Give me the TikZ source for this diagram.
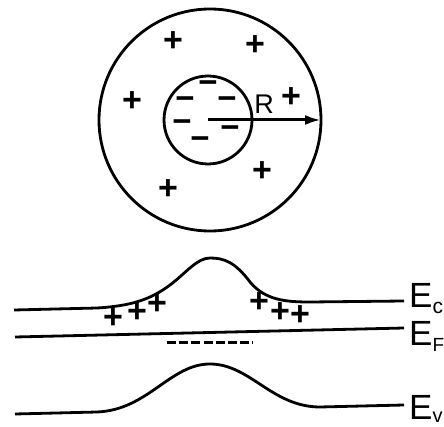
\documentclass[tikz,border=0pt]{standalone}
\usepackage{fontspec}
\setmainfont{Liberation Sans}
\usetikzlibrary{positioning,calc}
\usetikzlibrary{arrows.meta}
\tikzset{band/.style={line width=2.8pt}, chg/.style={inner sep=0pt,font=\fontsize{34}{34}\selectfont\bfseries}, mns/.style={chg,font=\fontsize{33}{33}\selectfont\bfseries}, lab/.style={inner sep=0pt,font=\fontsize{35}{35}\selectfont}}
\newcommand{\lvl}[3]{E\raisebox{#3}{\fontsize{#2}{#2}\selectfont #1}}

\begin{document}
\begin{tikzpicture}[x=1pt,y=-1pt]
\useasboundingbox (0,0) rectangle (444,427);
% grain with depletion shell
\node[circle,draw,line width=2.8pt,minimum size=222pt,outer sep=0pt] (grain) at (210,120) {};
\node[circle,draw,line width=2.8pt,minimum size=88pt] (core) at (208,120) {};
\draw[line width=3pt,-{Latex[length=16pt,width=10pt]}] (core.center) -- (grain.east);
\node[font=\fontsize{27}{27}\selectfont,inner sep=0pt] (rlab) at (264,104) {R};
\node[chg] (p1) at (173,42) {+};
\node[chg] (p2) at (255,46) {+};
\node[chg] (p3) at (132,102) {+};
\node[chg] (p4) at (291,98) {+};
\node[chg] (p5) at (262,172) {+};
\node[chg] (p6) at (168,190) {+};
\node[mns] (m1) at (208,87) {−};
\node[mns] (m2) at (185,103) {−};
\node[mns] (m3) at (227,103) {−};
\node[mns] (m4) at (182,126) {−};
\node[mns] (m5) at (230,132) {−};
\node[mns] (m6) at (200,143) {−};
% band diagram
\coordinate (ecl) at (14,310);
\coordinate (ecr) at (404,301);
\coordinate (efl) at (15,337);
\coordinate (efr) at (404,328);
\coordinate (evl) at (15,414);
\coordinate (evr) at (404,405);
\node[lab,anchor=base west] (eclab) at (409,308) {\lvl{c}{21}{-6pt}};
\node[lab,anchor=base west] (eflab) at (409,345) {\lvl{F}{19}{-6pt}};
\node[lab,anchor=base west] (evlab) at (409,419) {\lvl{v}{20}{-3pt}};
\draw[band] (ecl) -- (97,308) .. controls (130,306) and (150,300) .. (170,285) .. controls (186,273) and (197,258) .. (210,258) .. controls (224,258) and (235,262) .. (250,282) .. controls (265,300) and (285,302) .. (310,302) -- (ecr);
\draw[band] (efl) -- (efr);
\draw[band] (evl) -- (97,412) .. controls (148,410) and (170,364) .. (210,364) .. controls (250,364) and (272,407) .. (320,407) -- (evr);
\draw[line width=3pt,dash pattern=on 9pt off 3.2pt] (167,342) -- (253,342);
\node[chg] (b1) at (113,319) {+};
\node[chg] (b2) at (137,313) {+};
\node[chg] (b3) at (157,305) {+};
\node[chg] (b4) at (259,303) {+};
\node[chg] (b5) at (280,313) {+};
\node[chg] (b6) at (300,316) {+};
\end{tikzpicture}
\end{document}
